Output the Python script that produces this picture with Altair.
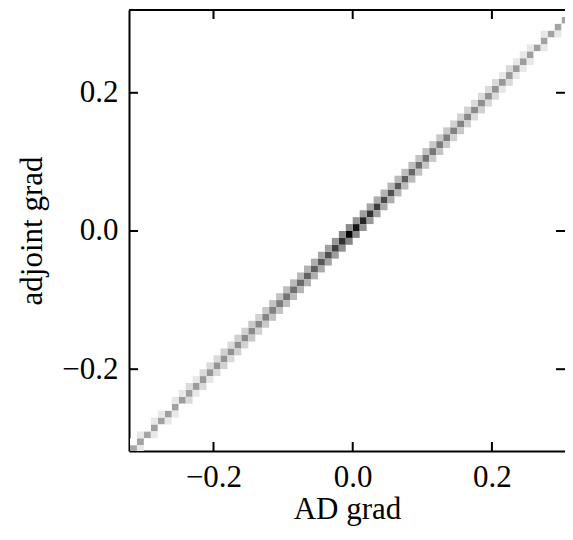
import altair as alt
import pandas as pd

# ---- data ----
bin_width = 0.01
bin_start = -0.32
diag_counts = [15, 17, 16, 18, 17, 19, 18, 20, 19, 21, 22,
               25, 27, 28, 30, 32, 35, 38, 40, 45, 50,
               60, 75, 90, 110, 140, 170, 220,
               300, 500, 900,
               5000, 2800, 1500, 900, 550, 350, 280, 200, 160, 120, 95, 80,
               70, 62, 55, 50, 45, 40, 36, 32, 30, 27,
               24, 22, 21, 20, 19, 18, 17, 17, 16, 16, 15]
upper_counts = [1, 2, 1, 2, 2, 1, 2, 2, 3, 2, 3,
                3, 3, 4, 3, 4, 4, 5, 4, 5, 6,
                6, 7, 8, 8, 10, 12, 14,
                18, 25, 40,
                35, 25, 20, 15, 12, 10, 9, 8, 7, 7, 6,
                6, 5, 5, 5, 4, 4, 4, 3, 3, 3,
                3, 2, 3, 2, 2, 2, 1, 2, 1, 1, 1]
lower_counts = [2, 1, 2, 1, 2, 2, 1, 3, 2, 3, 2,
                3, 4, 3, 4, 4, 5, 4, 5, 6, 6,
                7, 8, 9, 10, 11, 13, 16,
                20, 30, 45,
                40, 28, 22, 17, 13, 11, 9, 8, 8, 6, 6,
                5, 6, 5, 4, 5, 4, 3, 4, 3, 3,
                2, 3, 2, 2, 2, 1, 2, 1, 2, 1, 1]
tick_values = [-0.2, 0.0, 0.2]
x_title = "AD grad"
y_title = "adjoint grad"

rows = []
for i, c in enumerate(diag_counts):
    rows.append((i, i, c))
for i, c in enumerate(upper_counts):
    rows.append((i, i + 1, c))
for i, c in enumerate(lower_counts):
    rows.append((i + 1, i, c))
df = pd.DataFrame(rows, columns=["xb", "yb", "count"])
df["x"] = bin_start + bin_width * df["xb"]
df["x2"] = df["x"] + bin_width
df["y"] = bin_start + bin_width * df["yb"]
df["y2"] = df["y"] + bin_width

ticks_df = pd.DataFrame({"x": tick_values, "y": tick_values})

W, H = 436, 441
xdom = [-0.3214, 0.3050]
ydom = [-0.3184, 0.3198]
FONT = "Liberation Serif"
FS = 31
xs = alt.Scale(domain=xdom, nice=False, zero=False)
ys = alt.Scale(domain=ydom, nice=False, zero=False)
xaxis = alt.Axis(values=tick_values, format=".1f", title=x_title, ticks=False, grid=False,
                 labelPadding=11, titlePadding=2)
yaxis = alt.Axis(values=tick_values, format=".1f", title=y_title, ticks=False, grid=False,
                 labelPadding=11, titlePadding=13)

heat = alt.Chart(df).mark_rect(clip=True, strokeWidth=0).encode(
    x=alt.X("x:Q", scale=xs, axis=xaxis),
    x2="x2:Q",
    y=alt.Y("y:Q", scale=ys, axis=yaxis),
    y2="y2:Q",
    color=alt.Color("count:Q", scale=alt.Scale(type="log", domain=[1, 5000],
                                               range=["#ffffff", "#000000"]), legend=None),
)

tick_len = 9
bottom_ticks = alt.Chart(ticks_df).mark_rule(color="black", strokeWidth=2).encode(
    x=alt.X("x:Q", scale=xs, axis=xaxis), y=alt.value(H), y2=alt.value(H - tick_len))
top_ticks = alt.Chart(ticks_df).mark_rule(color="black", strokeWidth=2).encode(
    x=alt.X("x:Q", scale=xs, axis=xaxis), y=alt.value(0), y2=alt.value(tick_len))
left_ticks = alt.Chart(ticks_df).mark_rule(color="black", strokeWidth=2).encode(
    y=alt.Y("y:Q", scale=ys, axis=yaxis), x=alt.value(0), x2=alt.value(tick_len))
right_ticks = alt.Chart(ticks_df).mark_rule(color="black", strokeWidth=2).encode(
    y=alt.Y("y:Q", scale=ys, axis=yaxis), x=alt.value(W), x2=alt.value(W - tick_len))
top_spine = alt.Chart(ticks_df).mark_rule(color="black", strokeWidth=2).encode(
    x=alt.value(0), x2=alt.value(W), y=alt.value(0))

chart = alt.layer(heat, bottom_ticks, top_ticks, left_ticks, right_ticks, top_spine).properties(
    width=W, height=H,
    autosize=alt.AutoSizeParams(type="none"),
    padding={"left": 121, "top": 2, "right": 0, "bottom": 77},
).configure_view(stroke=None).configure_axis(
    labelFont=FONT, titleFont=FONT, labelFontSize=FS, titleFontSize=31,
    labelColor="black", titleColor="black", titleFontWeight="normal",
    domainColor="black", domainWidth=2,
)

chart.save("out.html", embed_options={"renderer": "svg", "actions": False})
